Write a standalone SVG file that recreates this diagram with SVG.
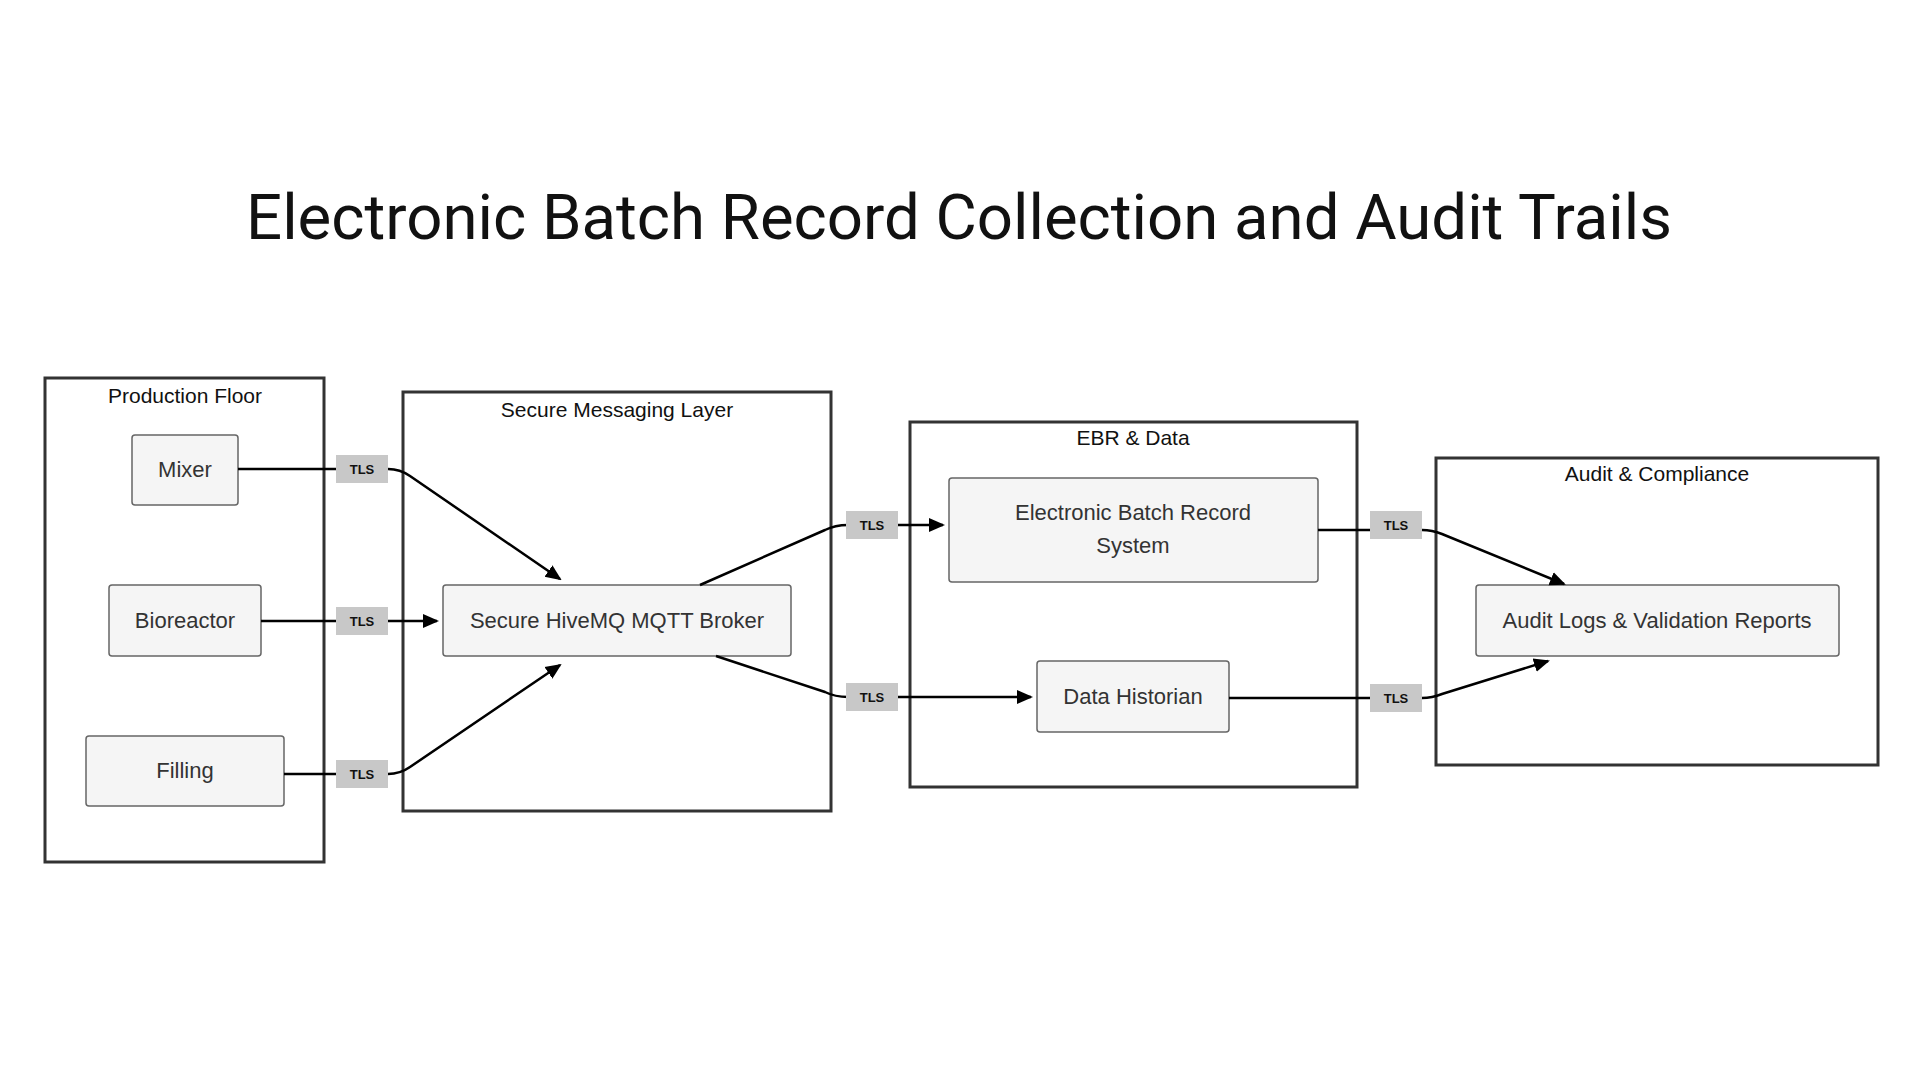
<svg xmlns="http://www.w3.org/2000/svg" width="1920" height="1080" viewBox="0 0 1920 1080">
<style>
.grp{fill:none;stroke:#333;stroke-width:3}
.nd{fill:#f5f5f5;stroke:#666;stroke-width:1.5}
.gt{font-family:"Liberation Sans",Arial,sans-serif;font-size:21px;fill:#111;text-anchor:middle}
.nt{font-family:"Liberation Sans",Arial,sans-serif;font-size:22px;fill:#333;text-anchor:middle}
.tl{fill:#c8c8c8}
.tt{font-family:"Liberation Sans",Arial,sans-serif;font-size:13px;font-weight:bold;fill:#111;text-anchor:middle}
.c{fill:none;stroke:#000;stroke-width:2.5}
</style>
<defs><marker id="a" markerWidth="16" markerHeight="16" refX="14" refY="8" orient="auto" markerUnits="userSpaceOnUse" viewBox="0 0 16 16"><path d="M0,1L16,8L0,15z" fill="#000"/></marker></defs>
<rect width="1920" height="1080" fill="#fff"/>
<text x="959" y="239" font-family="Roboto,'Liberation Sans',sans-serif" font-size="63.5" text-anchor="middle" fill="#111">Electronic Batch Record Collection and Audit Trails</text>
<g id="production-floor"><rect class="grp" x="45" y="378" width="279" height="484"/><text class="gt" x="185" y="403">Production Floor</text></g>
<g id="messaging-layer"><rect class="grp" x="403" y="392" width="428" height="419"/><text class="gt" x="617" y="417">Secure Messaging Layer</text></g>
<g id="ebr-data"><rect class="grp" x="910" y="422" width="447" height="365"/><text class="gt" x="1133" y="445">EBR &amp; Data</text></g>
<g id="audit-compliance"><rect class="grp" x="1436" y="458" width="442" height="307"/><text class="gt" x="1657" y="481">Audit &amp; Compliance</text></g>
<g id="mixer"><rect class="nd" x="132" y="435" width="106" height="70" rx="3"/><text class="nt" x="185" y="477">Mixer</text></g>
<g id="bioreactor"><rect class="nd" x="109" y="585" width="152" height="71" rx="3"/><text class="nt" x="185" y="628">Bioreactor</text></g>
<g id="filling"><rect class="nd" x="86" y="736" width="198" height="70" rx="3"/><text class="nt" x="185" y="778">Filling</text></g>
<g id="broker"><rect class="nd" x="443" y="585" width="348" height="71" rx="3"/><text class="nt" x="617" y="628">Secure HiveMQ MQTT Broker</text></g>
<g id="ebr-system"><rect class="nd" x="949" y="478" width="369" height="104" rx="3"/><text class="nt" x="1133" y="520">Electronic Batch Record</text><text class="nt" x="1133" y="553">System</text></g>
<g id="historian"><rect class="nd" x="1037" y="661" width="192" height="71" rx="3"/><text class="nt" x="1133" y="704">Data Historian</text></g>
<g id="audit-logs"><rect class="nd" x="1476" y="585" width="363" height="71" rx="3"/><text class="nt" x="1657" y="628">Audit Logs &amp; Validation Reports</text></g>
<g id="connectors">
<path class="c" d="M238,469H336M388,469Q400,469 410,476L560,579" marker-end="url(#a)"/>
<path class="c" d="M261,621H336M388,621H437" marker-end="url(#a)"/>
<path class="c" d="M284,774H336M388,774Q400,774 410,767L560,665" marker-end="url(#a)"/>
<path class="c" d="M700,585L825,530Q835,525 848,525M897,525H943" marker-end="url(#a)"/>
<path class="c" d="M716,656L825,692Q835,697 848,697M897,697H1031" marker-end="url(#a)"/>
<path class="c" d="M1318,530H1370M1422,530Q1432,530 1442,534L1564,584" marker-end="url(#a)"/>
<path class="c" d="M1229,698H1370M1422,698Q1432,698 1442,694L1548,661" marker-end="url(#a)"/>
<g><rect class="tl" x="336" y="455" width="52" height="28"/><text class="tt" x="362" y="474">TLS</text></g>
<g><rect class="tl" x="336" y="607" width="52" height="28"/><text class="tt" x="362" y="626">TLS</text></g>
<g><rect class="tl" x="336" y="760" width="52" height="28"/><text class="tt" x="362" y="779">TLS</text></g>
<g><rect class="tl" x="846" y="511" width="52" height="28"/><text class="tt" x="872" y="530">TLS</text></g>
<g><rect class="tl" x="846" y="683" width="52" height="28"/><text class="tt" x="872" y="702">TLS</text></g>
<g><rect class="tl" x="1370" y="511" width="52" height="28"/><text class="tt" x="1396" y="530">TLS</text></g>
<g><rect class="tl" x="1370" y="684" width="52" height="28"/><text class="tt" x="1396" y="703">TLS</text></g>
</g>
</svg>
